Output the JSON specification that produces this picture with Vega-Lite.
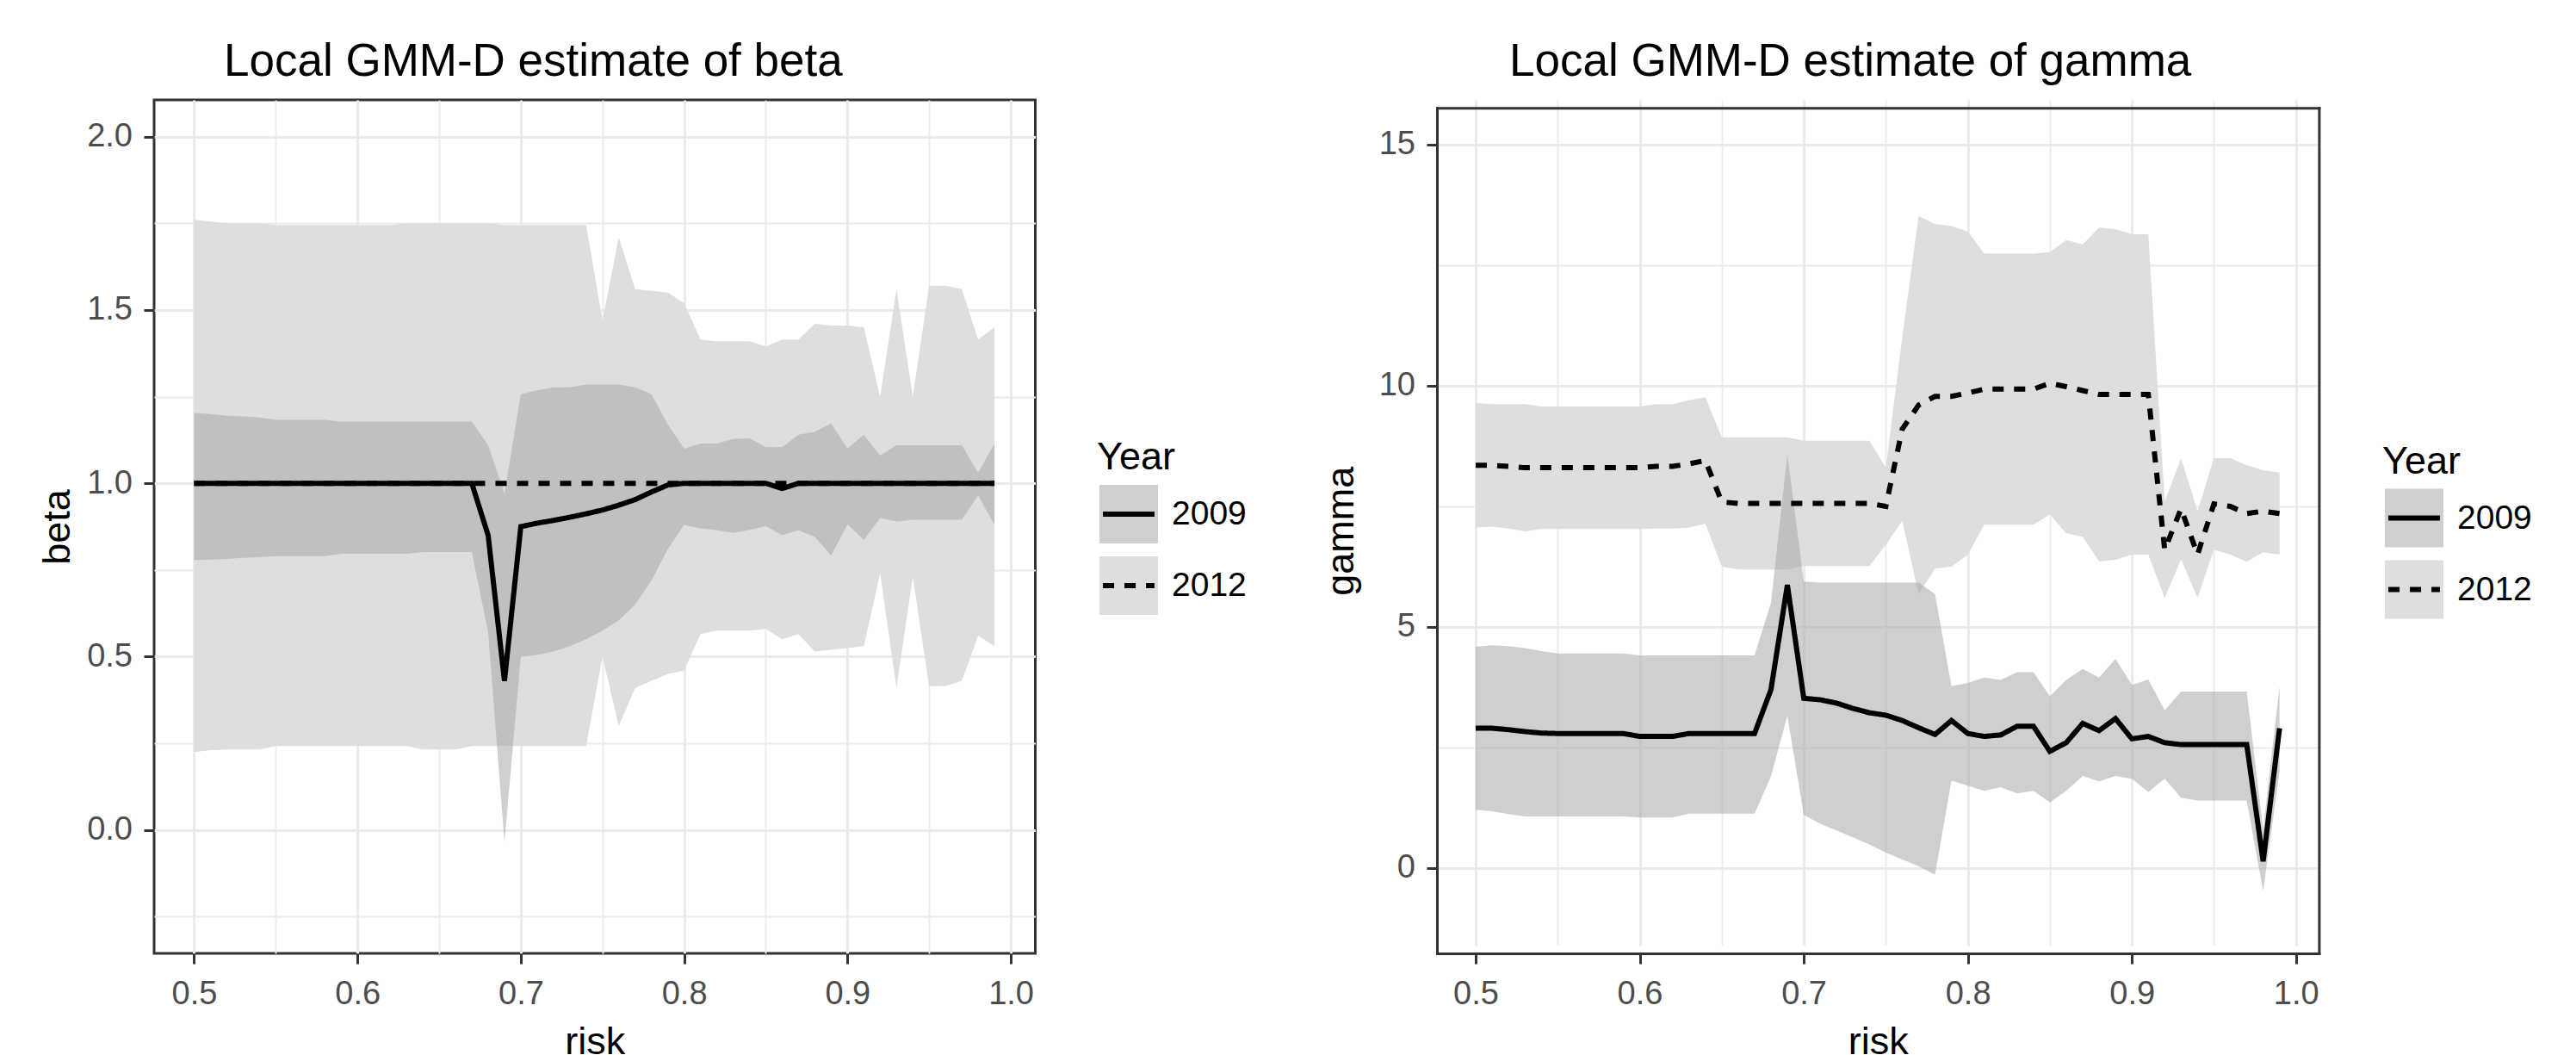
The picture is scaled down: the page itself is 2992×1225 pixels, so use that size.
{
  "$schema": "https://vega.github.io/schema/vega-lite/v6.json",
  "padding": {"left": 43, "top": 44, "right": 10, "bottom": 0},
  "spacing": 85,
  "resolve": {"scale": {"fill": "independent", "strokeDash": "independent"}},
  "config": {
    "font": "Liberation Sans",
    "view": {"stroke": "#333333", "strokeWidth": 3},
    "axis": {
      "domain": false, "grid": true, "gridColor": "#ebebeb",
      "tickColor": "#333333", "tickWidth": 3, "tickSize": 12,
      "labelFont": "Liberation Sans", "labelFontSize": 38, "labelColor": "#4d4d4d",
      "labelOverlap": false, "labelFlush": false,
      "titleFont": "Liberation Sans", "titleFontSize": 45, "titleFontWeight": "normal", "titleColor": "#000000",
      "domainColor": "#333333", "domainWidth": 3, "domainCap": "square"
    },
    "axisX": {"labelPadding": 16, "titlePadding": 14},
    "axisY": {"labelPadding": 13.5},
    "legend": {
      "titleFont": "Liberation Sans", "titleFontSize": 45, "titleFontWeight": "normal", "titleColor": "#000000",
      "labelFont": "Liberation Sans", "labelFontSize": 39, "labelColor": "#000000",
      "padding": 0, "rowPadding": -16, "titlePadding": 6, "labelOffset": 13,
      "symbolSize": 4624, "symbolStrokeWidth": 6, "direction": "vertical", "orient": "none"
    },
    "title": {"font": "Liberation Sans", "fontSize": 53, "fontWeight": "normal", "color": "#000000", "anchor": "start"}
  },
  "datasets": {
    "beta": [
      {"risk":0.5,"Year":"2012","est":1,"lo":0.225,"hi":1.76},
      {"risk":0.51,"Year":"2012","est":1,"lo":0.23,"hi":1.755},
      {"risk":0.52,"Year":"2012","est":1,"lo":0.232,"hi":1.75},
      {"risk":0.53,"Year":"2012","est":1,"lo":0.232,"hi":1.75},
      {"risk":0.54,"Year":"2012","est":1,"lo":0.232,"hi":1.75},
      {"risk":0.55,"Year":"2012","est":1,"lo":0.242,"hi":1.745},
      {"risk":0.56,"Year":"2012","est":1,"lo":0.242,"hi":1.745},
      {"risk":0.57,"Year":"2012","est":1,"lo":0.242,"hi":1.745},
      {"risk":0.58,"Year":"2012","est":1,"lo":0.242,"hi":1.745},
      {"risk":0.59,"Year":"2012","est":1,"lo":0.242,"hi":1.745},
      {"risk":0.6,"Year":"2012","est":1,"lo":0.242,"hi":1.745},
      {"risk":0.61,"Year":"2012","est":1,"lo":0.242,"hi":1.745},
      {"risk":0.62,"Year":"2012","est":1,"lo":0.242,"hi":1.745},
      {"risk":0.63,"Year":"2012","est":1,"lo":0.242,"hi":1.75},
      {"risk":0.64,"Year":"2012","est":1,"lo":0.232,"hi":1.75},
      {"risk":0.65,"Year":"2012","est":1,"lo":0.232,"hi":1.75},
      {"risk":0.66,"Year":"2012","est":1,"lo":0.232,"hi":1.75},
      {"risk":0.67,"Year":"2012","est":1,"lo":0.242,"hi":1.75},
      {"risk":0.68,"Year":"2012","est":1,"lo":0.242,"hi":1.75},
      {"risk":0.69,"Year":"2012","est":1,"lo":0.242,"hi":1.745},
      {"risk":0.7,"Year":"2012","est":1,"lo":0.242,"hi":1.745},
      {"risk":0.71,"Year":"2012","est":1,"lo":0.242,"hi":1.745},
      {"risk":0.72,"Year":"2012","est":1,"lo":0.242,"hi":1.745},
      {"risk":0.73,"Year":"2012","est":1,"lo":0.242,"hi":1.745},
      {"risk":0.74,"Year":"2012","est":1,"lo":0.242,"hi":1.745},
      {"risk":0.75,"Year":"2012","est":1,"lo":0.5,"hi":1.47},
      {"risk":0.76,"Year":"2012","est":1,"lo":0.3,"hi":1.71},
      {"risk":0.77,"Year":"2012","est":1,"lo":0.41,"hi":1.56},
      {"risk":0.78,"Year":"2012","est":1,"lo":0.43,"hi":1.555},
      {"risk":0.79,"Year":"2012","est":1,"lo":0.45,"hi":1.55},
      {"risk":0.8,"Year":"2012","est":1,"lo":0.46,"hi":1.52},
      {"risk":0.81,"Year":"2012","est":1,"lo":0.565,"hi":1.415},
      {"risk":0.82,"Year":"2012","est":1,"lo":0.575,"hi":1.41},
      {"risk":0.83,"Year":"2012","est":1,"lo":0.575,"hi":1.41},
      {"risk":0.84,"Year":"2012","est":1,"lo":0.575,"hi":1.41},
      {"risk":0.85,"Year":"2012","est":1,"lo":0.58,"hi":1.395},
      {"risk":0.86,"Year":"2012","est":1,"lo":0.55,"hi":1.415},
      {"risk":0.87,"Year":"2012","est":1,"lo":0.565,"hi":1.415},
      {"risk":0.88,"Year":"2012","est":1,"lo":0.515,"hi":1.46},
      {"risk":0.89,"Year":"2012","est":1,"lo":0.52,"hi":1.455},
      {"risk":0.9,"Year":"2012","est":1,"lo":0.525,"hi":1.455},
      {"risk":0.91,"Year":"2012","est":1,"lo":0.53,"hi":1.45},
      {"risk":0.92,"Year":"2012","est":1,"lo":0.74,"hi":1.25},
      {"risk":0.93,"Year":"2012","est":1,"lo":0.41,"hi":1.56},
      {"risk":0.94,"Year":"2012","est":1,"lo":0.73,"hi":1.25},
      {"risk":0.95,"Year":"2012","est":1,"lo":0.415,"hi":1.57},
      {"risk":0.96,"Year":"2012","est":1,"lo":0.415,"hi":1.57},
      {"risk":0.97,"Year":"2012","est":1,"lo":0.43,"hi":1.56},
      {"risk":0.98,"Year":"2012","est":1,"lo":0.56,"hi":1.415},
      {"risk":0.99,"Year":"2012","est":1,"lo":0.53,"hi":1.45},
      {"risk":0.5,"Year":"2009","est":1,"lo":0.779,"hi":1.203},
      {"risk":0.51,"Year":"2009","est":1,"lo":0.78,"hi":1.2},
      {"risk":0.52,"Year":"2009","est":1,"lo":0.782,"hi":1.195},
      {"risk":0.53,"Year":"2009","est":1,"lo":0.785,"hi":1.193},
      {"risk":0.54,"Year":"2009","est":1,"lo":0.787,"hi":1.19},
      {"risk":0.55,"Year":"2009","est":1,"lo":0.79,"hi":1.183},
      {"risk":0.56,"Year":"2009","est":1,"lo":0.79,"hi":1.183},
      {"risk":0.57,"Year":"2009","est":1,"lo":0.79,"hi":1.183},
      {"risk":0.58,"Year":"2009","est":1,"lo":0.79,"hi":1.183},
      {"risk":0.59,"Year":"2009","est":1,"lo":0.797,"hi":1.178},
      {"risk":0.6,"Year":"2009","est":1,"lo":0.797,"hi":1.178},
      {"risk":0.61,"Year":"2009","est":1,"lo":0.797,"hi":1.178},
      {"risk":0.62,"Year":"2009","est":1,"lo":0.797,"hi":1.178},
      {"risk":0.63,"Year":"2009","est":1,"lo":0.797,"hi":1.178},
      {"risk":0.64,"Year":"2009","est":1,"lo":0.802,"hi":1.178},
      {"risk":0.65,"Year":"2009","est":1,"lo":0.802,"hi":1.178},
      {"risk":0.66,"Year":"2009","est":1,"lo":0.802,"hi":1.178},
      {"risk":0.67,"Year":"2009","est":1,"lo":0.802,"hi":1.178},
      {"risk":0.68,"Year":"2009","est":0.85,"lo":0.57,"hi":1.11},
      {"risk":0.69,"Year":"2009","est":0.43,"lo":-0.035,"hi":0.97},
      {"risk":0.7,"Year":"2009","est":0.875,"lo":0.5,"hi":1.257},
      {"risk":0.71,"Year":"2009","est":0.885,"lo":0.505,"hi":1.268},
      {"risk":0.72,"Year":"2009","est":0.893,"lo":0.515,"hi":1.277},
      {"risk":0.73,"Year":"2009","est":0.902,"lo":0.53,"hi":1.277},
      {"risk":0.74,"Year":"2009","est":0.912,"lo":0.55,"hi":1.285},
      {"risk":0.75,"Year":"2009","est":0.923,"lo":0.575,"hi":1.285},
      {"risk":0.76,"Year":"2009","est":0.937,"lo":0.605,"hi":1.285},
      {"risk":0.77,"Year":"2009","est":0.953,"lo":0.65,"hi":1.277},
      {"risk":0.78,"Year":"2009","est":0.975,"lo":0.72,"hi":1.257},
      {"risk":0.79,"Year":"2009","est":0.995,"lo":0.81,"hi":1.17},
      {"risk":0.8,"Year":"2009","est":1,"lo":0.88,"hi":1.1},
      {"risk":0.81,"Year":"2009","est":1,"lo":0.87,"hi":1.115},
      {"risk":0.82,"Year":"2009","est":1,"lo":0.865,"hi":1.115},
      {"risk":0.83,"Year":"2009","est":1,"lo":0.857,"hi":1.128},
      {"risk":0.84,"Year":"2009","est":1,"lo":0.865,"hi":1.13},
      {"risk":0.85,"Year":"2009","est":1,"lo":0.876,"hi":1.104},
      {"risk":0.86,"Year":"2009","est":0.985,"lo":0.85,"hi":1.104},
      {"risk":0.87,"Year":"2009","est":1,"lo":0.865,"hi":1.14},
      {"risk":0.88,"Year":"2009","est":1,"lo":0.845,"hi":1.148},
      {"risk":0.89,"Year":"2009","est":1,"lo":0.792,"hi":1.173},
      {"risk":0.9,"Year":"2009","est":1,"lo":0.881,"hi":1.1},
      {"risk":0.91,"Year":"2009","est":1,"lo":0.837,"hi":1.14},
      {"risk":0.92,"Year":"2009","est":1,"lo":0.9,"hi":1.08},
      {"risk":0.93,"Year":"2009","est":1,"lo":0.89,"hi":1.11},
      {"risk":0.94,"Year":"2009","est":1,"lo":0.895,"hi":1.11},
      {"risk":0.95,"Year":"2009","est":1,"lo":0.895,"hi":1.11},
      {"risk":0.96,"Year":"2009","est":1,"lo":0.895,"hi":1.11},
      {"risk":0.97,"Year":"2009","est":1,"lo":0.895,"hi":1.11},
      {"risk":0.98,"Year":"2009","est":1,"lo":0.965,"hi":1.03},
      {"risk":0.99,"Year":"2009","est":1,"lo":0.88,"hi":1.115}
    ],
    "gamma": [
      {"risk":0.5,"Year":"2012","est":8.35,"lo":7.06,"hi":9.64},
      {"risk":0.51,"Year":"2012","est":8.35,"lo":7.08,"hi":9.62},
      {"risk":0.52,"Year":"2012","est":8.33,"lo":7.04,"hi":9.62},
      {"risk":0.53,"Year":"2012","est":8.3,"lo":6.98,"hi":9.62},
      {"risk":0.54,"Year":"2012","est":8.3,"lo":7.03,"hi":9.57},
      {"risk":0.55,"Year":"2012","est":8.3,"lo":7.03,"hi":9.57},
      {"risk":0.56,"Year":"2012","est":8.3,"lo":7.03,"hi":9.57},
      {"risk":0.57,"Year":"2012","est":8.3,"lo":7.03,"hi":9.57},
      {"risk":0.58,"Year":"2012","est":8.3,"lo":7.03,"hi":9.57},
      {"risk":0.59,"Year":"2012","est":8.3,"lo":7.03,"hi":9.57},
      {"risk":0.6,"Year":"2012","est":8.3,"lo":7.03,"hi":9.57},
      {"risk":0.61,"Year":"2012","est":8.33,"lo":7.04,"hi":9.62},
      {"risk":0.62,"Year":"2012","est":8.33,"lo":7.04,"hi":9.62},
      {"risk":0.63,"Year":"2012","est":8.38,"lo":7.06,"hi":9.7},
      {"risk":0.64,"Year":"2012","est":8.45,"lo":7.14,"hi":9.76},
      {"risk":0.65,"Year":"2012","est":7.59,"lo":6.25,"hi":8.93},
      {"risk":0.66,"Year":"2012","est":7.56,"lo":6.19,"hi":8.93},
      {"risk":0.67,"Year":"2012","est":7.56,"lo":6.19,"hi":8.93},
      {"risk":0.68,"Year":"2012","est":7.56,"lo":6.19,"hi":8.93},
      {"risk":0.69,"Year":"2012","est":7.56,"lo":6.19,"hi":8.93},
      {"risk":0.7,"Year":"2012","est":7.56,"lo":6.26,"hi":8.86},
      {"risk":0.71,"Year":"2012","est":7.56,"lo":6.26,"hi":8.86},
      {"risk":0.72,"Year":"2012","est":7.56,"lo":6.26,"hi":8.86},
      {"risk":0.73,"Year":"2012","est":7.56,"lo":6.26,"hi":8.86},
      {"risk":0.74,"Year":"2012","est":7.56,"lo":6.26,"hi":8.86},
      {"risk":0.75,"Year":"2012","est":7.5,"lo":6.7,"hi":8.3},
      {"risk":0.76,"Year":"2012","est":9.1,"lo":7.2,"hi":11},
      {"risk":0.77,"Year":"2012","est":9.6,"lo":5.68,"hi":13.52},
      {"risk":0.78,"Year":"2012","est":9.78,"lo":6.21,"hi":13.35},
      {"risk":0.79,"Year":"2012","est":9.78,"lo":6.25,"hi":13.31},
      {"risk":0.8,"Year":"2012","est":9.85,"lo":6.5,"hi":13.2},
      {"risk":0.81,"Year":"2012","est":9.93,"lo":7.12,"hi":12.74},
      {"risk":0.82,"Year":"2012","est":9.93,"lo":7.12,"hi":12.74},
      {"risk":0.83,"Year":"2012","est":9.93,"lo":7.12,"hi":12.74},
      {"risk":0.84,"Year":"2012","est":9.93,"lo":7.12,"hi":12.74},
      {"risk":0.85,"Year":"2012","est":10.05,"lo":7.33,"hi":12.77},
      {"risk":0.86,"Year":"2012","est":9.98,"lo":6.94,"hi":13.02},
      {"risk":0.87,"Year":"2012","est":9.9,"lo":6.87,"hi":12.93},
      {"risk":0.88,"Year":"2012","est":9.82,"lo":6.36,"hi":13.28},
      {"risk":0.89,"Year":"2012","est":9.82,"lo":6.39,"hi":13.25},
      {"risk":0.9,"Year":"2012","est":9.82,"lo":6.5,"hi":13.14},
      {"risk":0.91,"Year":"2012","est":9.82,"lo":6.5,"hi":13.14},
      {"risk":0.92,"Year":"2012","est":6.6,"lo":5.6,"hi":7.6},
      {"risk":0.93,"Year":"2012","est":7.45,"lo":6.4,"hi":8.5},
      {"risk":0.94,"Year":"2012","est":6.5,"lo":5.6,"hi":7.4},
      {"risk":0.95,"Year":"2012","est":7.55,"lo":6.6,"hi":8.5},
      {"risk":0.96,"Year":"2012","est":7.5,"lo":6.5,"hi":8.5},
      {"risk":0.97,"Year":"2012","est":7.35,"lo":6.35,"hi":8.35},
      {"risk":0.98,"Year":"2012","est":7.4,"lo":6.55,"hi":8.25},
      {"risk":0.99,"Year":"2012","est":7.35,"lo":6.5,"hi":8.2},
      {"risk":0.5,"Year":"2009","est":2.9,"lo":1.21,"hi":4.59},
      {"risk":0.51,"Year":"2009","est":2.9,"lo":1.18,"hi":4.62},
      {"risk":0.52,"Year":"2009","est":2.87,"lo":1.12,"hi":4.6},
      {"risk":0.53,"Year":"2009","est":2.83,"lo":1.07,"hi":4.56},
      {"risk":0.54,"Year":"2009","est":2.8,"lo":1.07,"hi":4.5},
      {"risk":0.55,"Year":"2009","est":2.79,"lo":1.07,"hi":4.45},
      {"risk":0.56,"Year":"2009","est":2.79,"lo":1.07,"hi":4.45},
      {"risk":0.57,"Year":"2009","est":2.79,"lo":1.07,"hi":4.45},
      {"risk":0.58,"Year":"2009","est":2.79,"lo":1.07,"hi":4.45},
      {"risk":0.59,"Year":"2009","est":2.79,"lo":1.07,"hi":4.45},
      {"risk":0.6,"Year":"2009","est":2.73,"lo":1.05,"hi":4.41},
      {"risk":0.61,"Year":"2009","est":2.73,"lo":1.05,"hi":4.41},
      {"risk":0.62,"Year":"2009","est":2.73,"lo":1.05,"hi":4.41},
      {"risk":0.63,"Year":"2009","est":2.79,"lo":1.13,"hi":4.41},
      {"risk":0.64,"Year":"2009","est":2.79,"lo":1.13,"hi":4.41},
      {"risk":0.65,"Year":"2009","est":2.79,"lo":1.13,"hi":4.41},
      {"risk":0.66,"Year":"2009","est":2.79,"lo":1.13,"hi":4.41},
      {"risk":0.67,"Year":"2009","est":2.79,"lo":1.13,"hi":4.41},
      {"risk":0.68,"Year":"2009","est":3.7,"lo":1.9,"hi":5.5},
      {"risk":0.69,"Year":"2009","est":5.87,"lo":3.16,"hi":8.58},
      {"risk":0.7,"Year":"2009","est":3.52,"lo":1.1,"hi":5.94},
      {"risk":0.71,"Year":"2009","est":3.49,"lo":0.92,"hi":5.92},
      {"risk":0.72,"Year":"2009","est":3.42,"lo":0.78,"hi":5.92},
      {"risk":0.73,"Year":"2009","est":3.31,"lo":0.64,"hi":5.92},
      {"risk":0.74,"Year":"2009","est":3.22,"lo":0.49,"hi":5.92},
      {"risk":0.75,"Year":"2009","est":3.17,"lo":0.32,"hi":5.92},
      {"risk":0.76,"Year":"2009","est":3.06,"lo":0.18,"hi":5.92},
      {"risk":0.77,"Year":"2009","est":2.91,"lo":0.04,"hi":5.92},
      {"risk":0.78,"Year":"2009","est":2.77,"lo":-0.14,"hi":5.68},
      {"risk":0.79,"Year":"2009","est":3.06,"lo":1.81,"hi":3.77},
      {"risk":0.8,"Year":"2009","est":2.79,"lo":1.71,"hi":3.84},
      {"risk":0.81,"Year":"2009","est":2.73,"lo":1.6,"hi":3.95},
      {"risk":0.82,"Year":"2009","est":2.76,"lo":1.68,"hi":3.9},
      {"risk":0.83,"Year":"2009","est":2.94,"lo":1.55,"hi":4.06},
      {"risk":0.84,"Year":"2009","est":2.94,"lo":1.6,"hi":4.06},
      {"risk":0.85,"Year":"2009","est":2.42,"lo":1.36,"hi":3.56},
      {"risk":0.86,"Year":"2009","est":2.6,"lo":1.6,"hi":3.9},
      {"risk":0.87,"Year":"2009","est":3,"lo":1.91,"hi":4.13},
      {"risk":0.88,"Year":"2009","est":2.85,"lo":1.8,"hi":3.95},
      {"risk":0.89,"Year":"2009","est":3.1,"lo":1.91,"hi":4.34},
      {"risk":0.9,"Year":"2009","est":2.68,"lo":1.85,"hi":3.8},
      {"risk":0.91,"Year":"2009","est":2.73,"lo":1.58,"hi":3.91},
      {"risk":0.92,"Year":"2009","est":2.6,"lo":1.85,"hi":3.27},
      {"risk":0.93,"Year":"2009","est":2.56,"lo":1.46,"hi":3.66},
      {"risk":0.94,"Year":"2009","est":2.56,"lo":1.4,"hi":3.66},
      {"risk":0.95,"Year":"2009","est":2.56,"lo":1.4,"hi":3.66},
      {"risk":0.96,"Year":"2009","est":2.56,"lo":1.4,"hi":3.66},
      {"risk":0.97,"Year":"2009","est":2.56,"lo":1.4,"hi":3.66},
      {"risk":0.98,"Year":"2009","est":0.14,"lo":-0.48,"hi":0.8},
      {"risk":0.99,"Year":"2009","est":2.9,"lo":2,"hi":3.77}
    ]
  },
  "hconcat": [
    {
      "width": 1023.5, "height": 991,
      "title": {"text": "Local GMM-D estimate of beta", "dx": 81, "offset": 17, "frame": "group"},
      "data": {"name": "beta"},
      "layer": [
        {
          "mark": {"type": "area"},
          "encoding": {
            "x": {"field": "risk", "type": "quantitative", "title": "risk",
                  "scale": {"domain": [0.4755, 1.015], "nice": false, "zero": false},
                  "axis": {"values": [0.5,0.55,0.6,0.65,0.7,0.75,0.8,0.85,0.9,0.95,1.0],
                           "labelExpr": "abs(datum.value*10 - round(datum.value*10)) < 0.001 ? format(datum.value, '.1f') : ''",
                           "gridWidth": {"condition": {"test": "abs(datum.value*10 - round(datum.value*10)) < 0.001", "value": 3}, "value": 1.8},
                           "tickOpacity": {"condition": {"test": "abs(datum.value*10 - round(datum.value*10)) < 0.001", "value": 1}, "value": 0}}},
            "y": {"field": "lo", "type": "quantitative", "title": "beta",
                  "scale": {"domain": [-0.356, 2.106], "nice": false, "zero": false},
                  "axis": {"values": [-0.25,0,0.25,0.5,0.75,1,1.25,1.5,1.75,2], "titlePadding": 10.7,
                           "labelExpr": "abs(datum.value*2 - round(datum.value*2)) < 0.001 ? format(datum.value, '.1f') : ''",
                           "gridWidth": {"condition": {"test": "abs(datum.value*2 - round(datum.value*2)) < 0.001", "value": 3}, "value": 1.8},
                           "tickOpacity": {"condition": {"test": "abs(datum.value*2 - round(datum.value*2)) < 0.001", "value": 1}, "value": 0}}},
            "y2": {"field": "hi"},
            "fill": {"field": "Year", "type": "nominal",
                     "scale": {"domain": ["2009", "2012"], "range": ["rgba(167,167,167,0.545)", "#dedede"]},
                     "legend": {"title": "Year", "legendX": 1095, "legendY": 393, "symbolType": "square", "symbolStrokeColor": "transparent"}}
          }
        },
        {
          "mark": {"type": "line", "color": "#000000", "strokeWidth": 6},
          "encoding": {
            "x": {"field": "risk", "type": "quantitative", "title": "risk", "scale": {"domain": [0.4755, 1.015], "nice": false, "zero": false}},
            "y": {"field": "est", "type": "quantitative", "title": "beta", "scale": {"domain": [-0.356, 2.106], "nice": false, "zero": false}},
            "strokeDash": {"field": "Year", "type": "nominal", "scale": {"range": [[1, 0], [13, 12]]},
                           "legend": {"title": "Year", "legendX": 1095, "legendY": 393, "symbolType": "M-0.88,0H0.88M0,-1L0,-1M0,1L0,1M-1,0L-1,0M1,0L1,0",
                                      "symbolStrokeColor": "#000000", "symbolFillColor": "transparent", "titleOpacity": 0, "labelOpacity": 0}}
          }
        }
      ]
    },
    {
      "width": 1024.4, "height": 991,
      "view": {"stroke": null},
      "title": {"text": "Local GMM-D estimate of gamma", "dx": 84, "offset": 17, "frame": "group"},
      "data": {"name": "gamma"},
      "resolve": {"axis": {"x": "independent", "y": "independent"}},
      "layer": [
        {
          "mark": {"type": "area"},
          "encoding": {
            "x": {"field": "risk", "type": "quantitative", "title": "risk",
                  "scale": {"domain": [0.4764, 1.014], "nice": false, "zero": false},
                  "axis": {"values": [0.5,0.55,0.6,0.65,0.7,0.75,0.8,0.85,0.9,0.95,1.0], "domain": true,
                           "labelExpr": "abs(datum.value*10 - round(datum.value*10)) < 0.001 ? format(datum.value, '.1f') : ''",
                           "gridWidth": {"condition": {"test": "abs(datum.value*10 - round(datum.value*10)) < 0.001", "value": 3}, "value": 1.8},
                           "tickOpacity": {"condition": {"test": "abs(datum.value*10 - round(datum.value*10)) < 0.001", "value": 1}, "value": 0}}},
            "y": {"field": "lo", "type": "quantitative", "title": "gamma",
                  "scale": {"domain": [-1.768, 15.76], "range": [991, 9.3], "nice": false, "zero": false},
                  "axis": {"values": [0,2.5,5,7.5,10,12.5,15], "titlePadding": 21.2, "domain": true,
                           "labelExpr": "abs(datum.value/5 - round(datum.value/5)) < 0.001 ? format(datum.value, 'd') : ''",
                           "gridWidth": {"condition": {"test": "abs(datum.value/5 - round(datum.value/5)) < 0.001", "value": 3}, "value": 1.8},
                           "tickOpacity": {"condition": {"test": "abs(datum.value/5 - round(datum.value/5)) < 0.001", "value": 1}, "value": 0}}},
            "y2": {"field": "hi"},
            "fill": {"field": "Year", "type": "nominal",
                     "scale": {"domain": ["2009", "2012"], "range": ["rgba(167,167,167,0.545)", "#dedede"]},
                     "legend": {"title": "Year", "legendX": 1098, "legendY": 397.5, "symbolType": "square", "symbolStrokeColor": "transparent"}}
          }
        },
        {
          "mark": {"type": "line", "color": "#000000", "strokeWidth": 6},
          "encoding": {
            "x": {"field": "risk", "type": "quantitative", "title": null,
                  "scale": {"domain": [0.4764, 1.014], "nice": false, "zero": false},
                  "axis": {"orient": "top", "offset": -9.3, "domain": true, "labels": false, "ticks": false, "grid": false, "title": null}},
            "y": {"field": "est", "type": "quantitative", "title": null,
                  "scale": {"domain": [-1.768, 15.76], "range": [991, 9.3], "nice": false, "zero": false},
                  "axis": {"orient": "right", "domain": true, "labels": false, "ticks": false, "grid": false, "title": null}},
            "strokeDash": {"field": "Year", "type": "nominal", "scale": {"range": [[1, 0], [13, 12]]},
                           "legend": {"title": "Year", "legendX": 1098, "legendY": 397.5, "symbolType": "M-0.88,0H0.88M0,-1L0,-1M0,1L0,1M-1,0L-1,0M1,0L1,0",
                                      "symbolStrokeColor": "#000000", "symbolFillColor": "transparent", "titleOpacity": 0, "labelOpacity": 0}}
          }
        }
      ]
    }
  ]
}
